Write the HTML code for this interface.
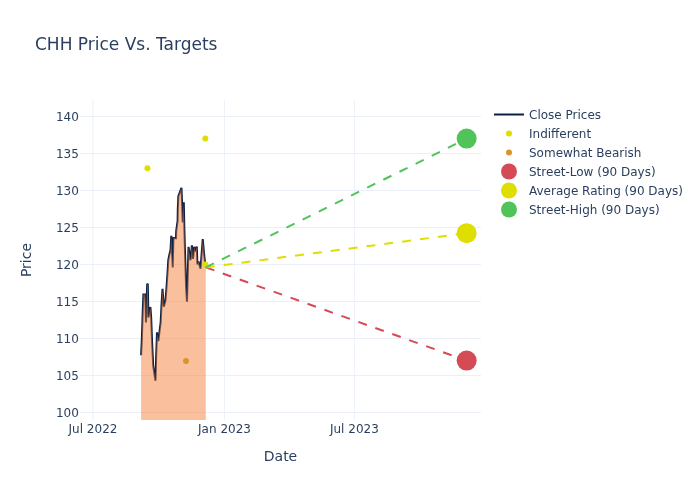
<!DOCTYPE html>
<html lang="en">
<head>
<meta charset="utf-8">
<title>CHH Price Vs. Targets</title>
<style>html,body{margin:0;padding:0;background:#fff;}body{width:700px;height:500px;overflow:hidden;}svg{display:block;}text{font-family:"DejaVu Sans", "Liberation Sans", sans-serif;fill:#2a3f5f;}</style>
</head>
<body>
<svg width="700" height="500" viewBox="0 0 700 500">
<rect x="0" y="0" width="700" height="500" fill="#ffffff"/>
<g stroke="#ebf0f8" stroke-width="1">
<line x1="92.9" y1="100" x2="92.9" y2="420"/>
<line x1="224.4" y1="100" x2="224.4" y2="420"/>
<line x1="354.4" y1="100" x2="354.4" y2="420"/>
<line x1="80" y1="412.5" x2="481" y2="412.5"/>
<line x1="80" y1="375.5" x2="481" y2="375.5"/>
<line x1="80" y1="338.5" x2="481" y2="338.5"/>
<line x1="80" y1="301.5" x2="481" y2="301.5"/>
<line x1="80" y1="264.5" x2="481" y2="264.5"/>
<line x1="80" y1="227.5" x2="481" y2="227.5"/>
<line x1="80" y1="190.5" x2="481" y2="190.5"/>
<line x1="80" y1="153.5" x2="481" y2="153.5"/>
<line x1="80" y1="116.5" x2="481" y2="116.5"/>
</g>
<clipPath id="plotclip"><rect x="80" y="100" width="401" height="320"/></clipPath>
<g clip-path="url(#plotclip)">
<path d="M141.10,355.20 L141.90,338.00 L142.70,312.00 L143.40,294.50 L145.30,294.50 L146.00,322.50 L146.70,300.00 L147.15,284.50 L147.80,283.70 L148.40,317.50 L150.40,307.00 L151.20,318.00 L152.00,340.00 L153.20,365.60 L155.50,380.80 L156.20,355.00 L157.00,332.40 L158.30,341.20 L160.70,322.00 L161.50,305.00 L162.50,288.80 L163.80,306.80 L165.50,300.30 L166.40,289.00 L167.70,270.00 L168.30,260.00 L169.30,255.00 L170.50,250.00 L171.30,235.90 L172.75,267.50 L173.40,238.00 L176.00,238.20 L176.20,231.00 L177.60,221.00 L177.80,209.00 L178.10,203.00 L178.30,196.50 L180.40,190.50 L181.50,187.90 L182.75,222.50 L183.80,202.30 L184.40,230.00 L185.10,255.00 L186.10,287.00 L187.00,301.75 L188.50,246.80 L190.50,260.25 L191.90,245.30 L193.00,259.00 L194.20,246.80 L195.30,251.40 L196.80,246.50 L197.40,264.50 L198.50,261.50 L200.50,268.75 L202.75,239.00 L204.00,253.00 L205.10,263.00 L205.80,267.40" fill="none" stroke="#0b2045" stroke-width="2" stroke-linejoin="miter" stroke-miterlimit="2"/>
<path d="M141.10,355.20 L141.90,338.00 L142.70,312.00 L143.40,294.50 L145.30,294.50 L146.00,322.50 L146.70,300.00 L147.15,284.50 L147.80,283.70 L148.40,317.50 L150.40,307.00 L151.20,318.00 L152.00,340.00 L153.20,365.60 L155.50,380.80 L156.20,355.00 L157.00,332.40 L158.30,341.20 L160.70,322.00 L161.50,305.00 L162.50,288.80 L163.80,306.80 L165.50,300.30 L166.40,289.00 L167.70,270.00 L168.30,260.00 L169.30,255.00 L170.50,250.00 L171.30,235.90 L172.75,267.50 L173.40,238.00 L176.00,238.20 L176.20,231.00 L177.60,221.00 L177.80,209.00 L178.10,203.00 L178.30,196.50 L180.40,190.50 L181.50,187.90 L182.75,222.50 L183.80,202.30 L184.40,230.00 L185.10,255.00 L186.10,287.00 L187.00,301.75 L188.50,246.80 L190.50,260.25 L191.90,245.30 L193.00,259.00 L194.20,246.80 L195.30,251.40 L196.80,246.50 L197.40,264.50 L198.50,261.50 L200.50,268.75 L202.75,239.00 L204.00,253.00 L205.10,263.00 L205.80,267.40 L205.80,420 L141.10,420 Z" fill="rgba(245,130,60,0.5)" stroke="none"/>
<circle cx="147.45" cy="168.3" r="3" fill="#dede00"/>
<circle cx="205.3" cy="138.6" r="3" fill="#dede00"/>
<circle cx="205.3" cy="264.4" r="3" fill="#dede00"/>
<circle cx="186" cy="360.9" r="3" fill="#d9952b"/>
<path d="M205.8,267.4 L466.65,360.60" fill="none" stroke="#d44a55" stroke-width="2" stroke-dasharray="9,9"/>
<path d="M205.8,267.4 L466.65,233.17" fill="none" stroke="#dede00" stroke-width="2" stroke-dasharray="9,9"/>
<path d="M205.8,267.4 L466.65,138.60" fill="none" stroke="#50c35a" stroke-width="2" stroke-dasharray="9,9"/>
<circle cx="466.65" cy="360.60" r="10" fill="#d44a55"/>
<circle cx="466.65" cy="233.17" r="10" fill="#dede00"/>
<circle cx="466.65" cy="138.60" r="10" fill="#50c35a"/>
</g>
<g font-size="12">
<text x="78.9" y="416.7" text-anchor="end">100</text>
<text x="78.9" y="379.7" text-anchor="end">105</text>
<text x="78.9" y="342.7" text-anchor="end">110</text>
<text x="78.9" y="305.7" text-anchor="end">115</text>
<text x="78.9" y="268.7" text-anchor="end">120</text>
<text x="78.9" y="231.7" text-anchor="end">125</text>
<text x="78.9" y="194.7" text-anchor="end">130</text>
<text x="78.9" y="157.7" text-anchor="end">135</text>
<text x="78.9" y="120.7" text-anchor="end">140</text>
<text x="93" y="433.2" text-anchor="middle">Jul 2022</text>
<text x="224.5" y="433.2" text-anchor="middle">Jan 2023</text>
<text x="354.4" y="433.2" text-anchor="middle">Jul 2023</text>
</g>
<text x="280.5" y="461" font-size="14" text-anchor="middle">Date</text>
<text transform="translate(30.8,260) rotate(-90)" font-size="14" text-anchor="middle">Price</text>
<text x="35" y="50" font-size="17">CHH Price Vs. Targets</text>
<g font-size="12">
<line x1="494" y1="114.5" x2="524" y2="114.5" stroke="#0b2045" stroke-width="2"/>
<text x="529" y="119.0">Close Prices</text>
<circle cx="509" cy="133.5" r="3" fill="#dede00"/>
<text x="529" y="138.0">Indifferent</text>
<circle cx="509" cy="152.5" r="3" fill="#d9952b"/>
<text x="529" y="157.0">Somewhat Bearish</text>
<circle cx="509" cy="171.5" r="8" fill="#d44a55"/>
<text x="529" y="176.0">Street-Low (90 Days)</text>
<circle cx="509" cy="190.5" r="8" fill="#dede00"/>
<text x="529" y="195.0">Average Rating (90 Days)</text>
<circle cx="509" cy="209.5" r="8" fill="#50c35a"/>
<text x="529" y="214.0">Street-High (90 Days)</text>
</g>
</svg>
</body>
</html>
